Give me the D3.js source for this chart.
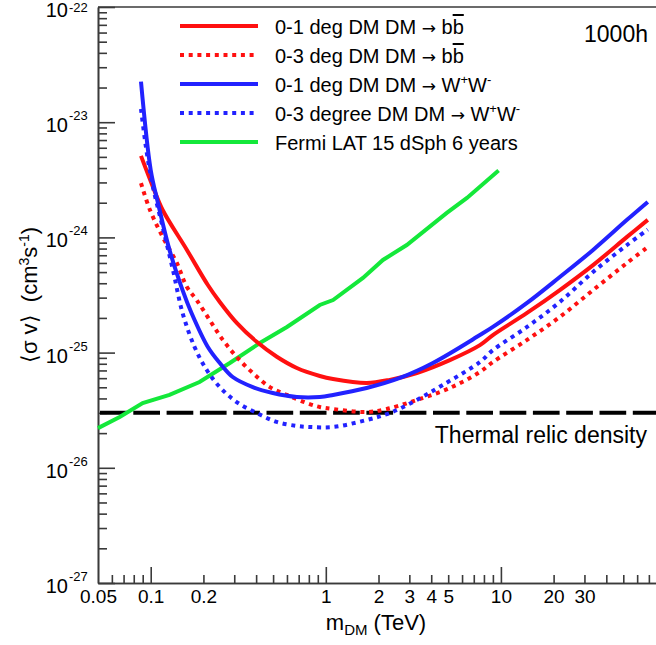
<!DOCTYPE html>
<html>
<head>
<meta charset="utf-8">
<script src="https://cdn.jsdelivr.net/npm/d3@7"></script>
<style>
body { margin: 0; background: #fff; }
svg { display: block; font-family: "Liberation Sans", Arial, Helvetica, sans-serif; }
</style>
</head>
<body>
<div class="chart"></div>
<script>
// values (mass in TeV, <sigma v> in cm^3/s)
var bbDeg1Mass = [0.088, 0.103, 0.117, 0.161, 0.212, 0.248, 0.31, 0.403, 0.525, 0.683, 0.924, 1.1, 1.71, 2.32, 3.31, 5.11, 7.59, 9.0, 14.1, 21.7, 33.6, 52.5, 69];
var bbDeg1Sv = [5.1e-24, 2.74e-24, 1.73e-24, 7.78e-25, 3.86e-25, 2.75e-25, 1.81e-25, 1.24e-25, 9.2e-26, 7.35e-26, 6.27e-26, 5.9e-26, 5.45e-26, 5.8e-26, 6.65e-26, 8.6e-26, 1.16e-25, 1.42e-25, 2.21e-25, 3.49e-25, 5.75e-25, 1.01e-24, 1.42e-24];

var bbDeg3Mass = [0.088, 0.099, 0.117, 0.141, 0.161, 0.183, 0.217, 0.258, 0.31, 0.383, 0.479, 0.599, 0.778, 0.924, 1.1, 1.71, 2.23, 3.31, 5.11, 7.59, 9.0, 14.1, 21.7, 33.6, 52.5, 69];
var bbDeg3Sv = [2.96e-24, 1.73e-24, 1.01e-24, 6.0e-25, 3.71e-25, 2.86e-25, 1.92e-25, 1.29e-25, 9.16e-26, 6.65e-26, 5.02e-26, 4.29e-26, 3.65e-26, 3.37e-26, 3.24e-26, 3.05e-26, 3.24e-26, 3.88e-26, 4.93e-26, 6.79e-26, 8.28e-26, 1.29e-25, 2.04e-25, 3.49e-25, 6.0e-25, 8.26e-25];

var wwDeg1Mass = [0.088, 0.1, 0.11, 0.128, 0.152, 0.171, 0.212, 0.248, 0.294, 0.383, 0.498, 0.683, 0.924, 1.1, 1.71, 2.65, 4.09, 7.59, 9.0, 14.1, 21.7, 33.6, 52.5, 69];
var wwDeg1Sv = [2.25e-23, 3.85e-24, 1.99e-24, 7.8e-25, 3.49e-25, 2.21e-25, 1.12e-25, 8.13e-26, 6.14e-26, 5.02e-26, 4.46e-26, 4.12e-26, 4.12e-26, 4.29e-26, 4.93e-26, 6.03e-26, 8.13e-26, 1.42e-25, 1.67e-25, 2.7e-25, 4.53e-25, 7.78e-25, 1.42e-24, 2.03e-24];

var wwDeg3Mass = [0.088, 0.095, 0.103, 0.117, 0.134, 0.152, 0.178, 0.209, 0.248, 0.31, 0.403, 0.525, 0.683, 0.811, 1.1, 1.71, 2.32, 3.31, 4.66, 7.59, 9.0, 14.1, 21.7, 33.6, 52.5, 69];
var wwDeg3Sv = [1.3e-23, 5.41e-24, 2.74e-24, 1.23e-24, 5.21e-25, 2.21e-25, 1.12e-25, 7.06e-26, 5.02e-26, 3.72e-26, 2.99e-26, 2.5e-26, 2.31e-26, 2.26e-26, 2.26e-26, 2.6e-26, 2.99e-26, 3.88e-26, 5.24e-26, 8.28e-26, 1.05e-25, 1.67e-25, 2.75e-25, 5.01e-25, 8.59e-25, 1.17e-24];

var fermiMass = [0.05, 0.0665, 0.09, 0.128, 0.19, 0.283, 0.42, 0.6, 0.924, 1.1, 1.63, 2.12, 2.9, 4.91, 6.4, 9.7];
var fermiSv = [2.21e-26, 2.76e-26, 3.65e-26, 4.29e-26, 5.56e-26, 8.13e-26, 1.21e-25, 1.67e-25, 2.59e-25, 2.86e-25, 4.45e-25, 6.37e-25, 8.59e-25, 1.63e-24, 2.2e-24, 3.8e-24];

var thermalRelic = 3e-26;

var xLabels = [0.05, 0.1, 0.2, 1, 2, 3, 4, 5, 10, 20, 30];
var yDecades = [-27, -26, -25, -24, -23, -22];

var width = 656, height = 645;
var plotLeft = 98, plotTop = 7, plotBottom = 583, plotRight = 676;
var axisColor = "#3a3a3a";

var svg = d3.select(".chart").append("svg")
    .attr("width", width)
    .attr("height", height);

var x = d3.scaleLog().domain([0.05, 100]).range([plotLeft, plotRight]);
var y = d3.scaleLog().domain([1e-27, 1e-22]).range([plotBottom, plotTop]);

// minor / major tick values
var xMinor = [], xMajor = [0.1, 1, 10];
[0.01, 0.1, 1, 10].forEach(function (dec) {
  for (var k = 2; k <= 9; k++) {
    var v = +(k * dec).toPrecision(3);
    if (v > 0.05 && v < 100) xMinor.push(v);
  }
});
var yMinor = [];
yDecades.slice(0, -1).forEach(function (e) {
  for (var k = 2; k <= 9; k++) yMinor.push(k * Math.pow(10, e));
});
var yMajor = yDecades.map(function (e) { return Math.pow(10, e); });

// x axis
var gx = svg.append("g").attr("transform", "translate(0," + plotBottom + ")");
gx.append("g").call(d3.axisBottom(x).tickValues(xMinor).tickSize(-8).tickSizeOuter(0).tickFormat(""));
gx.append("g").call(d3.axisBottom(x).tickValues(xMajor).tickSize(-16).tickSizeOuter(0).tickFormat(""));
gx.append("g").call(d3.axisBottom(x).tickValues(xLabels).tickSize(0).tickPadding(7).tickFormat(d3.format("~g")))
  .call(function (g) { g.select(".domain").remove(); })
  .selectAll("text").style("font-size", "19px").attr("fill", "#000")
  .style("font-family", "Liberation Sans, Arial, sans-serif");
gx.selectAll(".domain, line").attr("stroke", axisColor).attr("stroke-width", 1.6);

// y axis
var gy = svg.append("g").attr("transform", "translate(" + plotLeft + ",0)");
gy.append("g").call(d3.axisLeft(y).tickValues(yMinor).tickSize(-9).tickSizeOuter(0).tickFormat(""));
gy.append("g").call(d3.axisLeft(y).tickValues(yMajor).tickSize(-17).tickSizeOuter(0).tickFormat(""));
gy.selectAll(".domain, line").attr("stroke", axisColor).attr("stroke-width", 1.6);

// y labels 10^n
var yl = svg.append("g");
yl.selectAll("text.base").data(yMajor).enter().append("text")
    .attr("class", "base")
    .attr("x", 68).attr("y", function (d) { return y(d) + 10; })
    .attr("text-anchor", "end").style("font-size", "20px")
    .text("10");
yl.selectAll("text.exp").data(yDecades).enter().append("text")
    .attr("class", "exp")
    .attr("x", 69).attr("y", function (d) { return Math.max(y(Math.pow(10, d)) - 2, 12); })
    .style("font-size", "13px")
    .text(function (d) { return d; });

// top frame
svg.append("line")
    .attr("x1", plotLeft).attr("x2", plotRight).attr("y1", plotTop).attr("y2", plotTop)
    .attr("stroke", axisColor).attr("stroke-width", 1.6);

// axis titles
var xt = svg.append("text").attr("x", 376).attr("y", 630)
    .attr("text-anchor", "middle").style("font-size", "22px");
xt.append("tspan").text("m");
xt.append("tspan").attr("dy", 5).style("font-size", "15px").text("DM");
xt.append("tspan").attr("dy", -5).text(" (TeV)");

var yt = svg.append("text").attr("transform", "translate(37,295) rotate(-90)")
    .attr("text-anchor", "middle").style("font-size", "22px");
yt.append("tspan").text("\u27e8\u03c3 v\u27e9\u00a0\u00a0(cm");
yt.append("tspan").attr("dy", -8).style("font-size", "14px").text("3");
yt.append("tspan").attr("dy", 8).text("s");
yt.append("tspan").attr("dy", -8).style("font-size", "14px").text("-1");
yt.append("tspan").attr("dy", 8).text(")");

// thermal relic line
svg.append("line")
    .attr("x1", plotLeft).attr("x2", plotRight)
    .attr("y1", y(thermalRelic)).attr("y2", y(thermalRelic))
    .attr("stroke", "#000").attr("stroke-width", 4)
    .attr("stroke-dasharray", "26.7,6.6").attr("stroke-dashoffset", 31.3);

svg.append("text").attr("x", 647).attr("y", 443)
    .attr("text-anchor", "end").style("font-size", "23px")
    .text("Thermal relic density");

svg.append("text").attr("x", 648).attr("y", 42)
    .attr("text-anchor", "end").style("font-size", "23px")
    .text("1000h");

// curves
var smooth = d3.curveCatmullRom.alpha(0.5);
var series = [
  { mass: fermiMass, sv: fermiSv, color: "#14e83a", dash: null, curve: d3.curveLinear },
  { mass: bbDeg1Mass, sv: bbDeg1Sv, color: "#ff1010", dash: null, curve: smooth },
  { mass: bbDeg3Mass, sv: bbDeg3Sv, color: "#ff1010", dash: "4,4.7", curve: smooth },
  { mass: wwDeg3Mass, sv: wwDeg3Sv, color: "#2222ff", dash: "4,4.7", curve: smooth },
  { mass: wwDeg1Mass, sv: wwDeg1Sv, color: "#2222ff", dash: null, curve: smooth }
];

series.forEach(function (s) {
  var line = d3.line()
      .x(function (d) { return x(d[0]); })
      .y(function (d) { return y(d[1]); })
      .curve(s.curve);
  svg.append("path")
      .datum(d3.zip(s.mass, s.sv))
      .attr("d", line)
      .attr("fill", "none")
      .attr("stroke", s.color)
      .attr("stroke-width", 4)
      .attr("stroke-dasharray", s.dash);
});

// legend
var legend = [
  { color: "#ff1010", dash: null, parts: [["0-1 deg DM DM "], ["\u2192", "arrow"], [" b"], ["b", "over"]] },
  { color: "#ff1010", dash: "4,4.7", parts: [["0-3 deg DM DM "], ["\u2192", "arrow"], [" b"], ["b", "over"]] },
  { color: "#2222ff", dash: null, parts: [["0-1 deg DM DM "], ["\u2192", "arrow"], [" W"], ["+", "sup"], ["W"], ["-", "sup"]] },
  { color: "#2222ff", dash: "4,4.7", parts: [["0-3 degree DM DM "], ["\u2192", "arrow"], [" W"], ["+", "sup"], ["W"], ["-", "sup"]] },
  { color: "#14e83a", dash: null, parts: [["Fermi LAT 15 dSph 6 years"]] }
];

legend.forEach(function (l, i) {
  var ly = 26 + i * 29;
  svg.append("line")
      .attr("x1", 180).attr("x2", 258).attr("y1", ly).attr("y2", ly)
      .attr("stroke", l.color).attr("stroke-width", 4)
      .attr("stroke-dasharray", l.dash);
  var t = svg.append("text").attr("x", 275).attr("y", ly + 8).style("font-size", "20px");
  var shifted = false;
  l.parts.forEach(function (p) {
    var ts = t.append("tspan").text(p[0]);
    if (p[1] == "sup") {
      ts.attr("dy", -8).style("font-size", "13px");
      shifted = true;
    } else if (shifted) {
      ts.attr("dy", 8);
      shifted = false;
    }
    if (p[1] == "over") ts.style("text-decoration", "overline");
    if (p[1] == "arrow") ts.style("font-family", "DejaVu Sans").style("font-size", "17px");
  });
});
</script>
</body>
</html>
